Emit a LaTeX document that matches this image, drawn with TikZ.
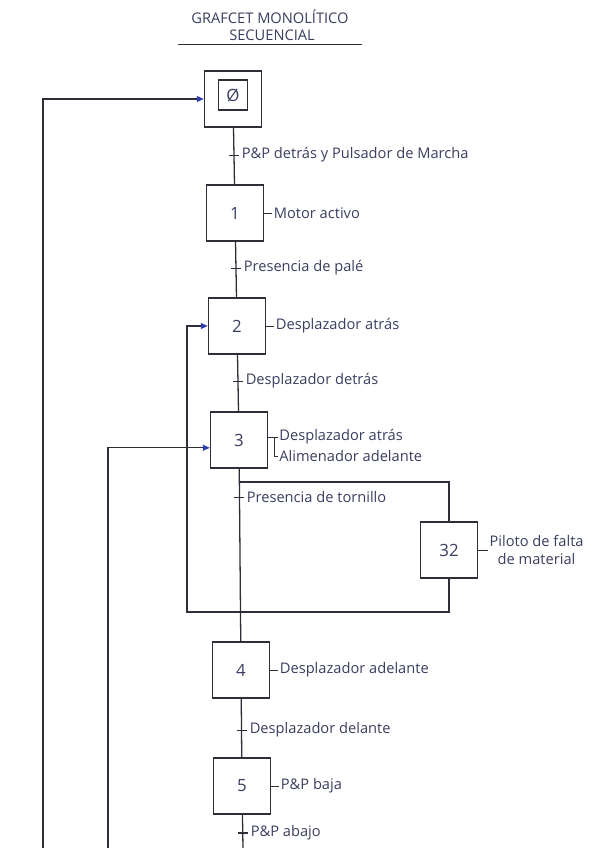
\documentclass[tikz,border=0pt]{standalone}
\usepackage{fontspec}
\setmainfont{Open Sans}
\usetikzlibrary{positioning,arrows.meta}
\definecolor{ink}{HTML}{3A3E5E}
\definecolor{pen}{HTML}{2E2E38}
\definecolor{tipblue}{HTML}{2F3FB0}

\begin{document}
\begin{tikzpicture}[x=0.03cm,y=-0.03cm,
  every node/.style={text=ink,font=\fontsize{12.5}{15}\selectfont},
  etapa/.style={draw=pen,line width=1.1pt,minimum width=1.71cm,minimum height=1.68cm,font=\Large},
  inicial/.style={draw=pen,line width=1.1pt,minimum width=0.87cm,minimum height=0.9cm,font=\Large},
  trans/.style={fill=pen,inner sep=0pt,minimum width=0.3cm,minimum height=0.7pt},
  accion/.style={anchor=west,inner sep=1pt},
  linea/.style={draw=pen,line width=1.1pt},
  retorno/.style={linea,-{Triangle[length=6pt,width=5pt,color=tipblue]}}
]
\useasboundingbox (0,0) rectangle (599,848);

\node (tit1) at (270,17) {GRAFCET MONOLÍTICO};
\node (tit2) at (272,35) {SECUENCIAL};
\draw[pen,line width=0.8pt] (178,44) -- (362,44);

\node[etapa] (s0) at (233,99) {};
\node[inicial] (s0i) at (233,95) {Ø};
\node[etapa] (s1) at (235,213) {1};
\node[etapa] (s2) at (237,326) {2};
\node[etapa] (s3) at (239,440) {3};
\node[etapa] (s32) at (449,550) {32};
\node[etapa] (s4) at (241,670) {4};
\node[etapa] (s5) at (242,786) {5};

\node[trans] (t0) at (234,155) {};
\node[trans] (t1) at (236,268) {};
\node[trans] (t2) at (238,381) {};
\node[trans] (t3) at (239,497) {};
\node[trans] (t4) at (242,730) {};
\node[trans,minimum height=1.6pt] (t5) at (243,833) {};

\node[accion,right=1pt of t0] (c0) {P\&P detrás y Pulsador de Marcha};
\node[accion,right=1pt of t1] (c1) {Presencia de palé};
\node[accion,right=1pt of t2] (c2) {Desplazador detrás};
\node[accion,right=1pt of t3] (c3) {Presencia de tornillo};
\node[accion,right=1pt of t4] (c4) {Desplazador delante};
\node[accion,right=1pt of t5] (c5) {P\&P abajo};

\node[accion,right=0.25cm of s1] (a1) {Motor activo};
\node[accion,right=0.25cm of s2] (a2) {Desplazador atrás};
\node[accion] (a3a) at (278,437) {Desplazador atrás};
\node[accion] (a3b) at (278,456) {Alimenador adelante};
\node[accion,align=center,right=0.3cm of s32] (a32) {Piloto de falta\\de material};
\node[accion,right=0.25cm of s4] (a4) {Desplazador adelante};
\node[accion,right=0.25cm of s5] (a5) {P\&P baja};

\coordinate (k3) at (274,437);
\coordinate (d3) at (239,482);
\coordinate (r2) at (187,612);
\coordinate (e0) at (43,848);
\coordinate (e3) at (108,848);
\coordinate (e5) at (243,848);

\draw[linea] (s0) -- (s1);
\draw[linea] (s1) -- (s2);
\draw[linea] (s2) -- (s3);
\draw[linea] (s3) -- (s4);
\draw[linea] (s4) -- (s5);
\draw[linea] (s5) -- (e5);

\draw[linea] (d3) -| (s32);
\draw[retorno] (s32) |- (r2) |- (s2);
\draw[retorno] (e0) |- (s0);
\draw[retorno] (e3) |- (s3.195);

\draw[linea,line width=0.8pt] (s1) -- (a1);
\draw[linea,line width=0.8pt] (s2) -- (a2);
\draw[linea,line width=0.8pt] (s3.east |- a3a) -- (a3a);
\draw[linea,line width=0.8pt] (k3) |- (a3b);
\draw[linea,line width=0.8pt] (s32) -- (a32);
\draw[linea,line width=0.8pt] (s4) -- (a4);
\draw[linea,line width=0.8pt] (s5) -- (a5);
\end{tikzpicture}
\end{document}
